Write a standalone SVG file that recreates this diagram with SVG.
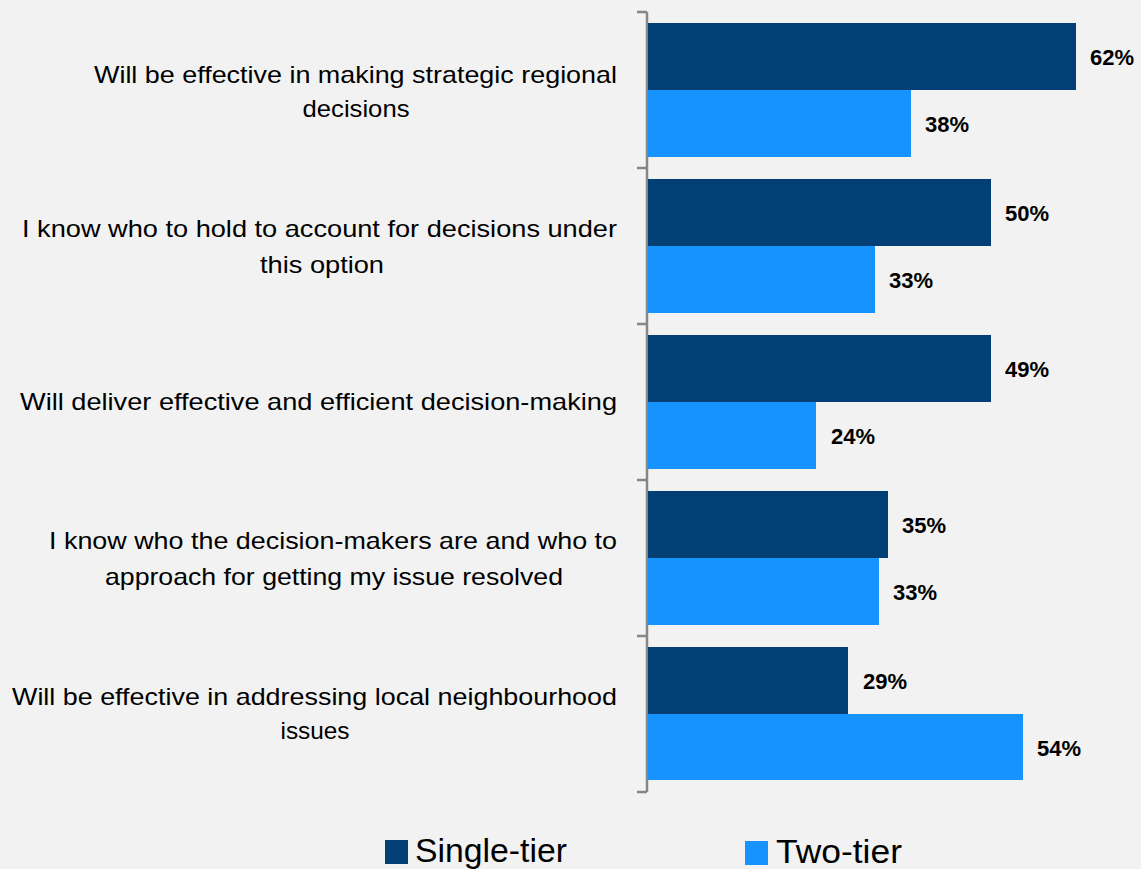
<svg xmlns="http://www.w3.org/2000/svg" width="1141" height="869" viewBox="0 0 1141 869">
<style>
.cat{font-family:"Liberation Sans",Arial,sans-serif;font-size:24px;fill:#000;text-anchor:middle}
.val{font-family:"Liberation Sans",Arial,sans-serif;font-size:22px;font-weight:bold;fill:#000}
.leg{font-family:"Liberation Sans",Arial,sans-serif;font-size:33px;fill:#000}
.s{fill:#023F74}
.t{fill:#1793FE}
.ax{stroke:#868686;stroke-width:2.5;fill:none}
</style>
<rect x="0" y="0" width="1141" height="869" fill="#F2F2F2"/>
<g id="axis">
<path class="ax" d="M647,12 V792 M637,12 H647 M637,168 H647 M637,324 H647 M637,480 H647 M637,636 H647 M637,792 H647"/>
</g>
<g id="cat1">
<text class="cat" x="355.5" y="83" textLength="523" lengthAdjust="spacingAndGlyphs">Will be effective in making strategic regional</text>
<text class="cat" x="356" y="117" textLength="107" lengthAdjust="spacingAndGlyphs">decisions</text>
<rect class="s" x="648" y="23" width="428" height="67"/>
<rect class="t" x="648" y="90" width="263" height="67"/>
<text class="val" x="1090" y="65">62%</text>
<text class="val" x="925" y="132">38%</text>
</g>
<g id="cat2">
<text class="cat" x="319.5" y="237" textLength="595" lengthAdjust="spacingAndGlyphs">I know who to hold to account for decisions under</text>
<text class="cat" x="322" y="273" textLength="124" lengthAdjust="spacingAndGlyphs">this option</text>
<rect class="s" x="648" y="179" width="343" height="67"/>
<rect class="t" x="648" y="246" width="227" height="67"/>
<text class="val" x="1005" y="221">50%</text>
<text class="val" x="889" y="288">33%</text>
</g>
<g id="cat3">
<text class="cat" x="318.5" y="410" textLength="597" lengthAdjust="spacingAndGlyphs">Will deliver effective and efficient decision-making</text>
<rect class="s" x="648" y="335" width="343" height="67"/>
<rect class="t" x="648" y="402" width="168" height="67"/>
<text class="val" x="1005" y="377">49%</text>
<text class="val" x="831" y="444">24%</text>
</g>
<g id="cat4">
<text class="cat" x="333" y="549" textLength="568" lengthAdjust="spacingAndGlyphs">I know who the decision-makers are and who to</text>
<text class="cat" x="334" y="585" textLength="458" lengthAdjust="spacingAndGlyphs">approach for getting my issue resolved</text>
<rect class="s" x="648" y="491" width="240" height="67"/>
<rect class="t" x="648" y="558" width="231" height="67"/>
<text class="val" x="902" y="533">35%</text>
<text class="val" x="893" y="600">33%</text>
</g>
<g id="cat5">
<text class="cat" x="314.5" y="705" textLength="605" lengthAdjust="spacingAndGlyphs">Will be effective in addressing local neighbourhood</text>
<text class="cat" x="315" y="739" textLength="69" lengthAdjust="spacingAndGlyphs">issues</text>
<rect class="s" x="648" y="647" width="200" height="67"/>
<rect class="t" x="648" y="714" width="375" height="66"/>
<text class="val" x="863" y="689">29%</text>
<text class="val" x="1037" y="756">54%</text>
</g>
<g id="legend">
<rect class="s" x="385" y="840" width="23" height="24"/>
<text class="leg" x="415" y="862" textLength="152" lengthAdjust="spacingAndGlyphs">Single-tier</text>
<rect class="t" x="745" y="841" width="23" height="24"/>
<text class="leg" x="776" y="863" textLength="126" lengthAdjust="spacingAndGlyphs">Two-tier</text>
</g>
</svg>
